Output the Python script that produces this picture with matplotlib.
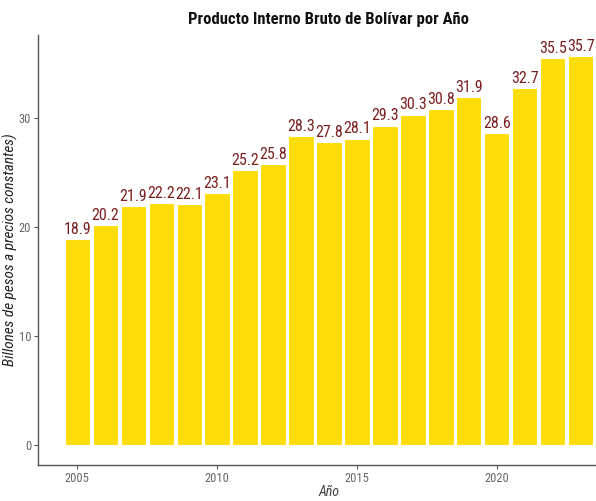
import matplotlib.pyplot as plt
import numpy as np

# data
years = list(range(2005, 2024))
pib = [18.9, 20.2, 21.9, 22.2, 22.1, 23.1, 25.2, 25.8, 28.3, 27.8,
       28.1, 29.3, 30.3, 30.8, 31.9, 28.6, 32.7, 35.5, 35.7]
yticks = [0, 10, 20, 30]
xticks = [2005, 2010, 2015, 2020]

plt.rcParams['font.family'] = ['Roboto Condensed', 'Liberation Sans', 'DejaVu Sans']

fig = plt.figure(figsize=(5.96, 5.01), dpi=100)
W, H = 596, 501
# panel runs a little past the right edge, as in the original
ax = fig.add_axes([38 / W, 1 - 465 / H, (620 - 38) / W, (465 - 35) / H])

ax.bar(years, pib, width=0.9, color='#FCDD09', edgecolor='white', linewidth=0.8)
for x, v in zip(years, pib):
    ax.text(x, v + 0.2, f"{v:.1f}", ha='center', va='bottom',
            fontsize=11.5, color='#7A1F1F')

ax.set_xlim(2003.6, 2024.4)
ax.set_ylim(-1.8, 37.6)
ax.set_xticks(xticks)
ax.set_yticks(yticks)

for s in ['top', 'right']:
    ax.spines[s].set_visible(False)
for s in ['left', 'bottom']:
    ax.spines[s].set_color('#555555')
    ax.spines[s].set_linewidth(1.0)
ax.tick_params(colors='#555555', labelcolor='#666666', labelsize=9, length=3,
               width=0.8, pad=2)

ax.set_title("Producto Interno Bruto de Bolívar por Año", fontsize=12,
             fontweight='bold', color='#111111', pad=8)
ax.set_xlabel("Año", fontsize=10, style='italic', color='#444444')
ax.set_ylabel("Billones de pesos a precios constantes)", fontsize=11,
              style='italic', color='#222222')
ax.xaxis.set_label_coords(0.5, (465 - 485) / 430)
ax.yaxis.set_label_coords((18 - 38) / 582, 0.5)

fig.savefig('out.png', dpi=100)
